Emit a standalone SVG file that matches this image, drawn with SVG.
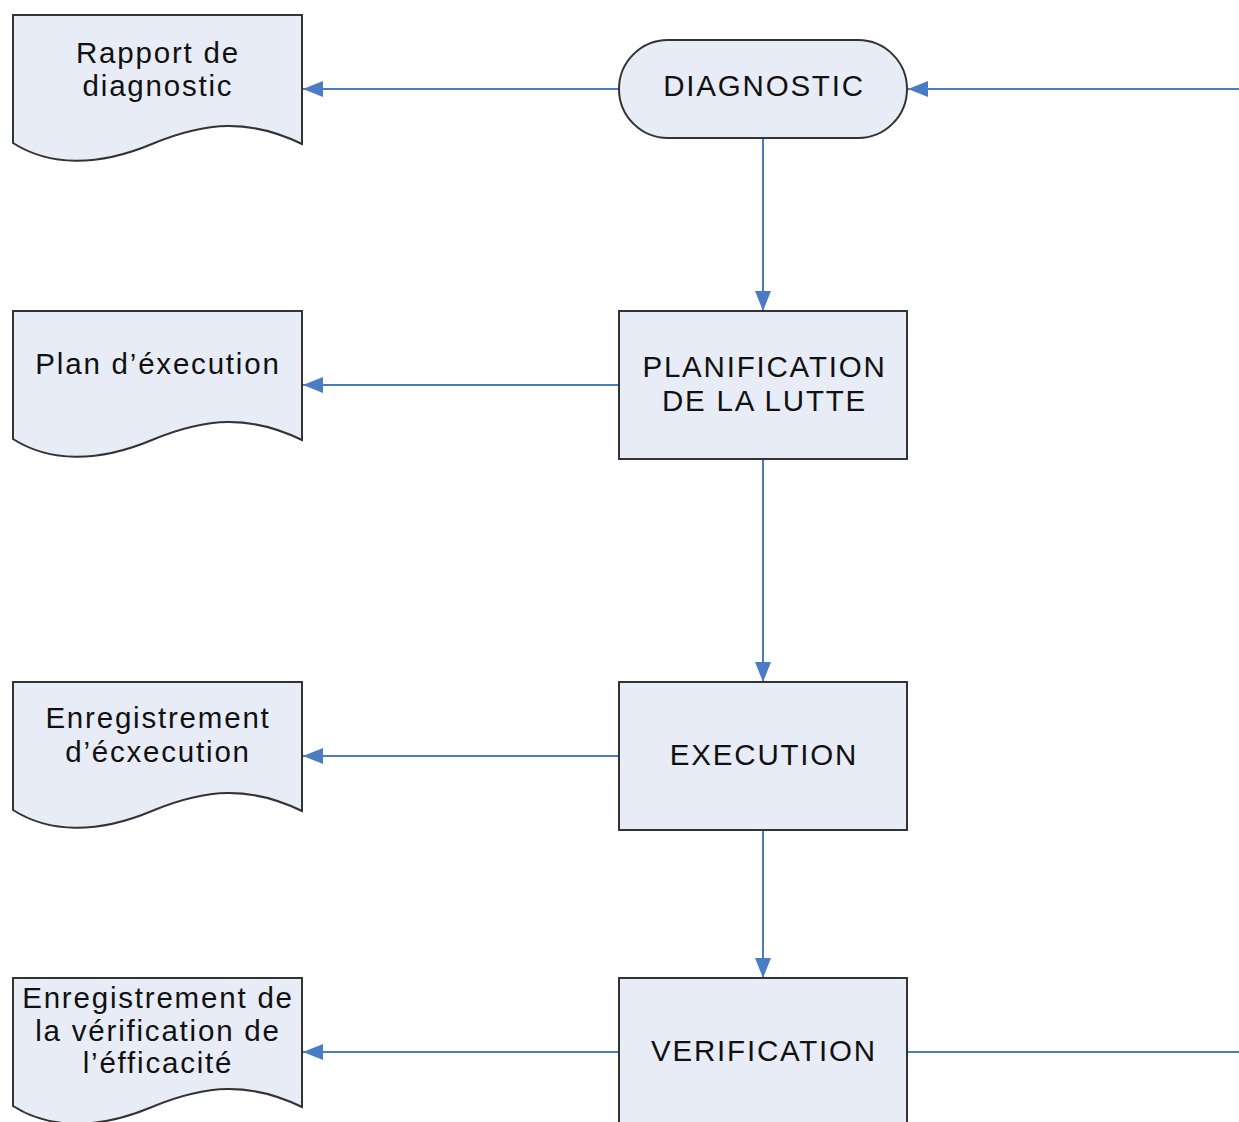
<svg xmlns="http://www.w3.org/2000/svg" width="1239" height="1122" viewBox="0 0 1239 1122">
<style>
.node{fill:#e8ecf7;stroke:#333;stroke-width:2}
.t{font-family:"Liberation Sans",Arial,sans-serif;font-size:29.5px;letter-spacing:1.8px;fill:#111;text-anchor:middle}
.c{fill:none;stroke:#4a7cc4;stroke-width:2}
</style>
<defs>
<path id="doc" d="M0,0 H289 V129 C237,104 194,106 139,129 C84,152 36,151 0,128 Z"/>
<marker id="ah" viewBox="0 0 20 16" refX="20" refY="8" markerWidth="20" markerHeight="16" markerUnits="userSpaceOnUse" orient="auto">
<path d="M0,0 L20,8 L0,16 Z" fill="#4a7cc4"/>
</marker>
</defs>
<g id="connectors">
<line class="c" x1="619" y1="89" x2="303" y2="89" marker-end="url(#ah)"/>
<line class="c" x1="1239" y1="89" x2="908" y2="89" marker-end="url(#ah)"/>
<line class="c" x1="763" y1="138" x2="763" y2="311" marker-end="url(#ah)"/>
<line class="c" x1="619" y1="385" x2="303" y2="385" marker-end="url(#ah)"/>
<line class="c" x1="763" y1="459" x2="763" y2="682" marker-end="url(#ah)"/>
<line class="c" x1="619" y1="756" x2="303" y2="756" marker-end="url(#ah)"/>
<line class="c" x1="763" y1="830" x2="763" y2="978" marker-end="url(#ah)"/>
<line class="c" x1="619" y1="1052" x2="303" y2="1052" marker-end="url(#ah)"/>
<line class="c" x1="907" y1="1052" x2="1239" y2="1052"/>
</g>
<g id="diagnostic">
<rect class="node" x="619" y="40" width="288" height="98" rx="49" ry="49"/>
<text class="t" x="764" y="96">DIAGNOSTIC</text>
</g>
<g id="planification">
<rect class="node" x="619" y="311" width="288" height="148"/>
<text class="t" x="764.5" y="377">PLANIFICATION</text>
<text class="t" x="764.5" y="411">DE LA LUTTE</text>
</g>
<g id="execution">
<rect class="node" x="619" y="682" width="288" height="148"/>
<text class="t" x="764" y="765">EXECUTION</text>
</g>
<g id="verification">
<rect class="node" x="619" y="978" width="288" height="160"/>
<text class="t" x="764" y="1061">VERIFICATION</text>
</g>
<g id="rapport">
<use href="#doc" class="node" transform="translate(13,15)"/>
<text class="t" x="158" y="63">Rapport de</text>
<text class="t" x="158" y="96">diagnostic</text>
</g>
<g id="plan">
<use href="#doc" class="node" transform="translate(13,311)"/>
<text class="t" x="158" y="374">Plan d’éxecution</text>
</g>
<g id="enregistrement-execution">
<use href="#doc" class="node" transform="translate(13,682)"/>
<text class="t" x="158" y="728">Enregistrement</text>
<text class="t" x="158" y="762">d’écxecution</text>
</g>
<g id="enregistrement-verification">
<use href="#doc" class="node" transform="translate(13,978)"/>
<text class="t" x="158" y="1008">Enregistrement de</text>
<text class="t" x="158" y="1041">la vérification de</text>
<text class="t" x="158" y="1073">l’éfficacité</text>
</g>
</svg>
